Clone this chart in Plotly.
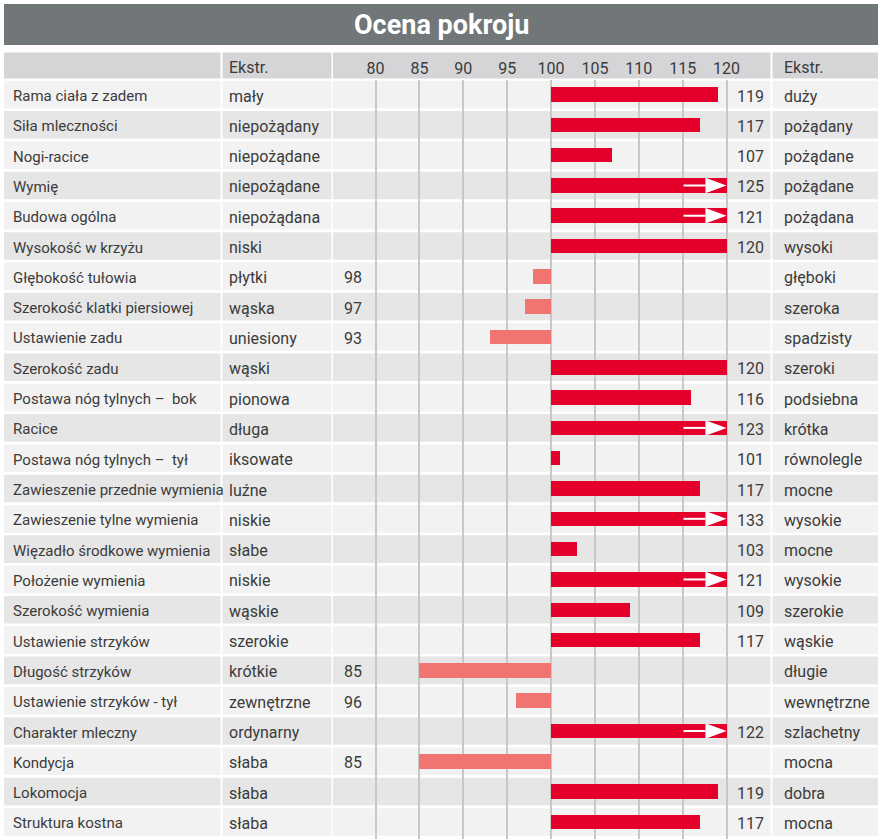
import plotly.graph_objects as go

# ---------------- data ----------------
traits = ["Rama ciała z zadem", "Siła mleczności", "Nogi-racice", "Wymię", "Budowa ogólna",
          "Wysokość w krzyżu", "Głębokość tułowia", "Szerokość klatki piersiowej",
          "Ustawienie zadu", "Szerokość zadu", "Postawa nóg tylnych –\u00a0 bok", "Racice",
          "Postawa nóg tylnych –\u00a0 tył", "Zawieszenie przednie wymienia",
          "Zawieszenie tylne wymienia", "Więzadło środkowe wymienia", "Położenie wymienia",
          "Szerokość wymienia", "Ustawienie strzyków", "Długość strzyków",
          "Ustawienie strzyków - tył", "Charakter mleczny", "Kondycja", "Lokomocja",
          "Struktura kostna"]
low_extreme = ["mały", "niepożądany", "niepożądane", "niepożądane", "niepożądana", "niski",
               "płytki", "wąska", "uniesiony", "wąski", "pionowa", "długa", "iksowate",
               "luźne", "niskie", "słabe", "niskie", "wąskie", "szerokie", "krótkie",
               "zewnętrzne", "ordynarny", "słaba", "słaba", "słaba"]
high_extreme = ["duży", "pożądany", "pożądane", "pożądane", "pożądana", "wysoki", "głęboki",
                "szeroka", "spadzisty", "szeroki", "podsiebna", "krótka", "równolegle",
                "mocne", "wysokie", "mocne", "wysokie", "szerokie", "wąskie", "długie",
                "wewnętrzne", "szlachetny", "mocna", "dobra", "mocna"]
values = [119, 117, 107, 125, 121, 120, 98, 97, 93, 120, 116, 123, 101, 117, 133, 103, 121,
          109, 117, 85, 96, 122, 85, 119, 117]
tick_vals = [80, 85, 90, 95, 100, 105, 110, 115, 120]
title_text = "Ocena pokroju"
header_label = "Ekstr."
BASE = 100
CAP = 120

# ---------------- styling / geometry ----------------
W, H = 883, 839
FONT = "Roboto, Liberation Sans, sans-serif"
FS_LABEL = 15
FS = 16
TXT = "#3b3b3b"
RED = "#e4002b"
SALMON = "#f07570"
PITCH = 30.31
ROW0 = 94.5          # px centre of first row
TOP = 80             # px top of y-axis domain
TSHIFT = -1.5        # small downward nudge of row texts

def px(x):
    return x / W

def py(y):
    return 1 - y / H

n = len(traits)
rows = list(range(n))

fig = go.Figure()

# bars above 100
hi_idx = [i for i in rows if values[i] >= BASE]
fig.add_trace(go.Bar(
    y=hi_idx, x=[min(values[i], CAP) - BASE for i in hi_idx], base=BASE,
    orientation="h", marker=dict(color=RED, line=dict(width=0)), width=0.48,
    hoverinfo="skip", showlegend=False))
# bars below 100
lo_idx = [i for i in rows if values[i] < BASE]
fig.add_trace(go.Bar(
    y=lo_idx, x=[BASE - values[i] for i in lo_idx], base=[values[i] for i in lo_idx],
    orientation="h", marker=dict(color=SALMON, line=dict(width=0)), width=0.48,
    hoverinfo="skip", showlegend=False))

# arrows for values beyond the scale
over = [i for i in rows if values[i] > CAP]
tri_x, tri_y, ln_x, ln_y = [], [], [], []
for i in over:
    tri_x += [CAP - 2.4, CAP, CAP - 2.4, CAP - 2.4, None]
    tri_y += [i - 0.255, i, i + 0.255, i - 0.255, None]
    ln_x += [CAP - 4.9, CAP - 2.4, None]
    ln_y += [i, i, None]
fig.add_trace(go.Scatter(x=ln_x, y=ln_y, mode="lines", line=dict(color="white", width=2),
                         hoverinfo="skip", showlegend=False))
fig.add_trace(go.Scatter(x=tri_x, y=tri_y, mode="lines", fill="toself", fillcolor="white",
                         line=dict(width=0, color="white"), hoverinfo="skip", showlegend=False))

shapes = []
# title bar
shapes.append(dict(type="rect", xref="paper", yref="paper", x0=px(4), x1=px(878),
                   y0=py(45), y1=py(4), fillcolor="#717679", line=dict(width=0), layer="below"))
# column cells
cols = [(4, 220.5), (222.5, 331.5), (333, 770.5), (772.5, 878)]
# header row
for c0, c1 in cols:
    shapes.append(dict(type="rect", xref="paper", yref="paper", x0=px(c0), x1=px(c1),
                       y0=py(78.5), y1=py(52.5), fillcolor="#d5d5d7", line=dict(width=0),
                       layer="below"))
for i in rows:
    top = ROW0 - 13.8 + PITCH * i
    bot = ROW0 + 13.8 + PITCH * i
    col = "#f2f2f2" if i % 2 == 0 else "#e6e6e6"
    for c0, c1 in cols:
        shapes.append(dict(type="rect", xref="paper", yref="paper", x0=px(c0), x1=px(c1),
                           y0=py(bot), y1=py(top), fillcolor=col, line=dict(width=0),
                           layer="below"))

annotations = []
annotations.append(dict(text="<b>" + title_text + "</b>", xref="paper", yref="paper",
                        x=px(441), y=py(25), showarrow=False,
                        font=dict(family=FONT, size=27, color="white"),
                        xanchor="center", yanchor="middle"))
for hx in (227, 782):
    annotations.append(dict(text=header_label, xref="paper", yref="paper", x=px(hx),
                            y=py(67), showarrow=False, xanchor="left", yanchor="middle",
                            font=dict(family=FONT, size=FS, color=TXT)))
for i in rows:
    fl = dict(family=FONT, size=FS_LABEL, color=TXT)
    f = dict(family=FONT, size=FS, color=TXT)
    annotations.append(dict(text=traits[i], xref="paper", yref="y", x=px(11), y=i,
                            yshift=TSHIFT, showarrow=False, xanchor="left",
                            yanchor="middle", font=fl))
    annotations.append(dict(text=low_extreme[i], xref="paper", yref="y", x=px(227), y=i,
                            yshift=TSHIFT, showarrow=False, xanchor="left",
                            yanchor="middle", font=f))
    annotations.append(dict(text=high_extreme[i], xref="paper", yref="y", x=px(782), y=i,
                            yshift=TSHIFT, showarrow=False, xanchor="left",
                            yanchor="middle", font=f))
    vx = 353 if values[i] < BASE else 750
    annotations.append(dict(text=str(values[i]), xref="paper", yref="y", x=px(vx), y=i,
                            yshift=TSHIFT, showarrow=False, xanchor="center",
                            yanchor="middle", font=f))

# x-axis: 80 at px 376, 120 at px 727
unit = (727 - 376) / 40.0
x_lo = 100 - (551 - 333) / unit
x_hi = 100 + (770.5 - 551) / unit

fig.update_layout(
    width=W, height=H, margin=dict(l=0, r=0, t=0, b=0),
    paper_bgcolor="white", plot_bgcolor="rgba(0,0,0,0)",
    shapes=shapes, annotations=annotations, barmode="overlay", bargap=0,
    xaxis=dict(domain=[px(333), px(770.5)], range=[x_lo, x_hi], tickvals=tick_vals,
               ticktext=[str(t) for t in tick_vals], side="top", showgrid=True,
               gridcolor="#c8c8c8", gridwidth=2, zeroline=False, showline=False, ticks="",
               ticklabelstandoff=2,
               tickfont=dict(family=FONT, size=16, color=TXT), fixedrange=True),
    yaxis=dict(domain=[0, py(TOP)], range=[(H - ROW0) / PITCH, (TOP - ROW0) / PITCH],
               showgrid=False, zeroline=False, showticklabels=False, fixedrange=True),
)

fig.write_html("out.html", config={"displayModeBar": False},
               post_script="document.body.style.margin='0';document.body.style.overflow='hidden';")
